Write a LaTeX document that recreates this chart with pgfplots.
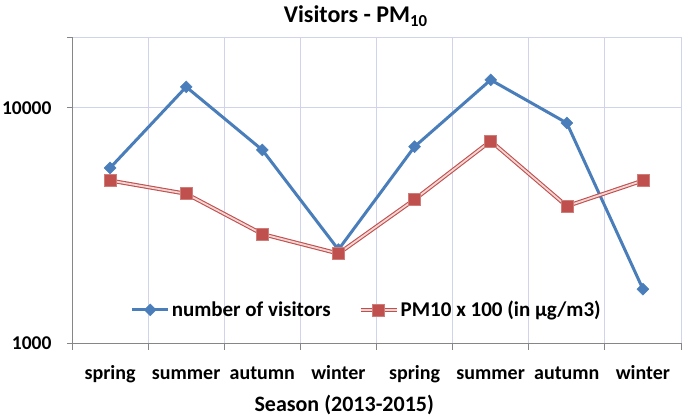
\documentclass[border=0pt]{standalone}
\usepackage{pgfplots}
\pgfplotsset{compat=1.18}
\usepackage{fontspec}
\setmainfont{Carlito}
\definecolor{vblue}{RGB}{74,126,187}
\definecolor{pmred}{RGB}{192,80,77}
\definecolor{pminner}{RGB}{246,214,213}
\definecolor{gridc}{RGB}{207,212,234}
\definecolor{axisc}{RGB}{134,134,134}
\pgfplotstableread{
x visitors pm
0 5550 4906
1 12270 4309
2 6620 2905
3 2495 2400
4 6834 4076
5 13140 7224
6 8616 3817
7 1694 4906
}\datatable
\begin{document}
\begin{tikzpicture}
\begin{axis}[
 scale only axis, width=609pt, height=306pt,
 ymode=log, ymin=1000, ymax=20000,
 xmin=-0.5, xmax=7.5,
 xtick={0,1,2,3,4,5,6,7},
 xticklabels={spring,summer,autumn,winter,spring,summer,autumn,winter},
 minor xtick={-0.5,0.5,1.5,2.5,3.5,4.5,5.5,6.5,7.5},
 ytick={1000,10000,20000}, yticklabels={1000,10000,{}},
 yminorticks=false,
 axis x line*=bottom, axis y line*=left,
 axis line style={axisc, line width=0.8pt, -},
 ymajorgrids, xminorgrids,
 major grid style={gridc, line width=0.8pt},
 minor grid style={gridc, line width=0.8pt},
 major x tick style={draw=none},
 minor x tick style={axisc, line width=0.8pt},
 y tick style={axisc, line width=0.8pt},
 tick align=outside,
 major tick length=5pt, minor tick length=7pt,
 /pgf/number format/assume math mode=true,
 tick label style={font=\bfseries\fontsize{20}{24}\selectfont, text=black},
 xticklabel style={anchor=base, yshift=-32pt},
 yticklabel style={anchor=east, xshift=-12pt, font=\bfseries\fontsize{19.5}{24}\selectfont},
 title={Visitors - PM\textsubscript{10}},
 title style={font=\bfseries\fontsize{24}{28}\selectfont, at={(axis description cs:0.466,1)}, anchor=base, yshift=8pt},
 xlabel={Season (2013-2015)},
 xlabel style={font=\bfseries\fontsize{22}{26}\selectfont, at={(axis description cs:0.447,0)}, anchor=base, yshift=-68.5pt},
 legend style={at={(axis description cs:0.484,0.108)}, anchor=center, draw=none, fill=none,
   legend columns=2, font=\bfseries\fontsize{21}{25}\selectfont,
   /tikz/every even column/.append style={column sep=26pt}},
 legend cell align=left,
]
\coordinate (ll) at (rel axis cs:0,0);
\coordinate (ur) at (rel axis cs:1,1);
\addplot[vblue, line width=3pt, mark=square*, mark size=4.2pt,
  mark options={rotate=45, fill=vblue, draw=vblue, line width=0.5pt, solid},
  legend image code/.code={\draw[mark repeat=2,mark phase=2] plot coordinates {(0pt,0pt) (18pt,0pt) (36pt,0pt)};}]
  table[x=x, y=visitors] {\datatable};
\addlegendentry{number of visitors}
\addplot[draw=pmred, line width=1.1pt, double=pminner, double distance=1.8pt, no marks, forget plot]
  table[x=x, y=pm] {\datatable};
\addplot[only marks, mark=square*, mark size=6pt,
  mark options={fill=pmred, draw=pmred!75!white, line width=0.6pt},
  legend image code/.code={\draw[draw=pmred, line width=1.1pt, double=pminner, double distance=1.8pt] (0pt,0pt) -- (36pt,0pt);
    \draw plot coordinates {(18pt,0pt)};}]
  table[x=x, y=pm] {\datatable};
\addlegendentry{PM10 x 100 (in µg/m3)}
\end{axis}
\pgfresetboundingbox
\path ([shift={(-72pt,-76pt)}]ll) rectangle ([shift={(4pt,37pt)}]ur);
\end{tikzpicture}
\end{document}
